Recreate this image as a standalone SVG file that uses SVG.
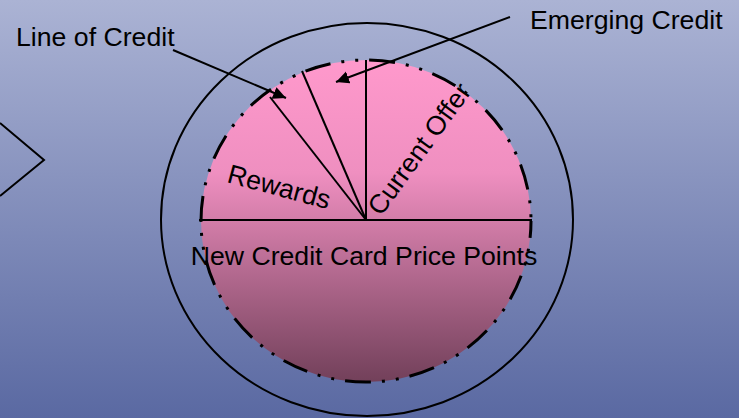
<svg xmlns="http://www.w3.org/2000/svg" width="739" height="418" viewBox="0 0 739 418">
  <defs>
    <linearGradient id="bg" x1="0" y1="0" x2="0" y2="1">
      <stop offset="0" stop-color="#abb3d4"/>
      <stop offset="1" stop-color="#5a69a2"/>
    </linearGradient>
    <linearGradient id="pie" x1="0" y1="0" x2="0" y2="1">
      <stop offset="0" stop-color="#ff99cc"/>
      <stop offset="0.35" stop-color="#ef8fc0"/>
      <stop offset="1" stop-color="#72405a"/>
    </linearGradient>
    <marker id="arrow" markerUnits="userSpaceOnUse" markerWidth="14" markerHeight="13" refX="13" refY="6.25" orient="auto">
      <path d="M0,0 L13,6.25 L0,12.5 z" fill="#000"/>
    </marker>
  </defs>
  <style>
    .line { stroke: #000; stroke-width: 2; fill: none; }
    .label { font-family: "Liberation Sans", Arial, sans-serif; font-size: 26.67px; fill: #000; }
    .rim { fill: url(#pie); stroke: #000; stroke-width: 3; stroke-dasharray: 26 11 3 11 3 11; stroke-dashoffset: 9; }
  </style>

  <rect width="739" height="418" fill="url(#bg)"/>

  <!-- chevron cut off at the left edge -->
  <g id="chevron">
    <polyline class="line" points="0,123 44,160 0,196"/>
  </g>

  <!-- outer ring -->
  <g id="outer-ring">
    <ellipse class="line" cx="367" cy="219.5" rx="206" ry="196.5"/>
  </g>

  <!-- pie with its dividing lines -->
  <g id="pie-chart">
    <ellipse class="rim" cx="366" cy="221" rx="165" ry="161"/>
    <line class="line" x1="199" y1="220" x2="532" y2="220"/>
    <line class="line" x1="366" y1="220" x2="366" y2="60"/>
    <line class="line" x1="366" y1="220" x2="302" y2="71"/>
    <line class="line" x1="366" y1="220" x2="270" y2="97"/>
  </g>

  <g id="label-price-points">
    <text class="label" x="364" y="265" text-anchor="middle">New Credit Card Price Points</text>
  </g>
  <g id="label-rewards">
    <text class="label" transform="translate(226,182) rotate(15)">Rewards</text>
  </g>
  <g id="label-current-offer">
    <text class="label" transform="translate(381,217) rotate(-54)">Current Offer</text>
  </g>
  <g id="label-line-of-credit">
    <text class="label" x="16" y="46">Line of Credit</text>
  </g>
  <g id="label-emerging-credit">
    <text class="label" x="530" y="29">Emerging Credit</text>
  </g>

  <!-- callout connectors -->
  <g id="connectors">
    <line class="line" x1="173" y1="50" x2="286" y2="98" marker-end="url(#arrow)"/>
    <line class="line" x1="510" y1="17" x2="336" y2="82" marker-end="url(#arrow)"/>
  </g>
</svg>
